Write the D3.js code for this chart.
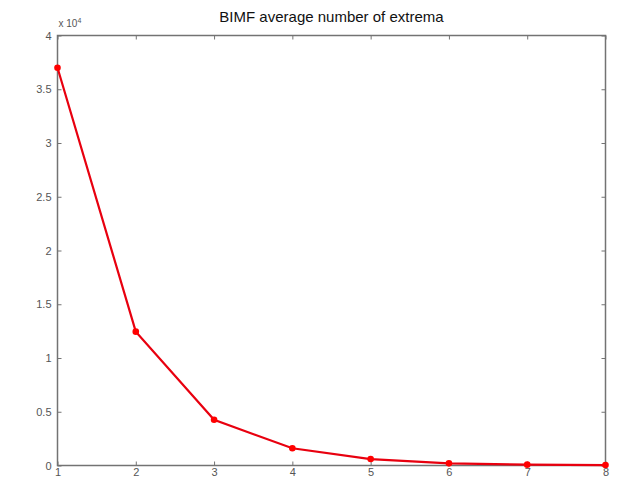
<!DOCTYPE html>
<html><head><meta charset="utf-8">
<script src="https://cdn.jsdelivr.net/npm/d3@7"></script>
<style>body{margin:0;background:#fff}svg{display:block}text{font-family:"Liberation Sans",Arial,sans-serif}</style>
</head><body><svg id="c" width="617" height="481"></svg>
<script>
const imfIndex = [1,2,3,4,5,6,7,8];
const avgExtrema = [37000,12450,4250,1600,600,200,80,40];
const xTicks = [1,2,3,4,5,6,7,8];
const yTicks = [0,5000,10000,15000,20000,25000,30000,35000,40000];
const yTickLabels = ["0","0.5","1","1.5","2","2.5","3","3.5","4"];
const title = "BIMF average number of extrema";

const svg = d3.select("#c");
const m = {l:57.5, r:605.5, t:35.5, b:465.5};
const x = d3.scaleLinear().domain([1,8]).range([m.l,m.r]);
const y = d3.scaleLinear().domain([0,40000]).range([m.b,m.t]);
const axCol = "#737373", txtCol = "#555";

svg.append("rect").attr("x",m.l).attr("y",m.t).attr("width",m.r-m.l).attr("height",m.b-m.t)
  .attr("fill","none").attr("stroke",axCol).attr("stroke-width",1.5);

const tl = 4;
const fmtY = d => yTickLabels[yTicks.indexOf(d)];
const gB = svg.append("g").attr("transform",`translate(0,${m.b})`).call(d3.axisBottom(x).tickValues(xTicks).tickSizeInner(-tl).tickSizeOuter(0).tickPadding(3).tickFormat(d3.format("d")));
const gT = svg.append("g").attr("transform",`translate(0,${m.t})`).call(d3.axisTop(x).tickValues(xTicks).tickSizeInner(-tl).tickSizeOuter(0).tickFormat(""));
const gL = svg.append("g").attr("transform",`translate(${m.l},0)`).call(d3.axisLeft(y).tickValues(yTicks).tickSizeInner(-tl).tickSizeOuter(0).tickPadding(6).tickFormat(fmtY));
const gR = svg.append("g").attr("transform",`translate(${m.r},0)`).call(d3.axisRight(y).tickValues(yTicks).tickSizeInner(-tl).tickSizeOuter(0).tickFormat(""));
[gB,gT,gL,gR].forEach(g=>{
  g.select(".domain").remove();
  g.selectAll(".tick line").attr("stroke",axCol).attr("stroke-width",1);
  g.selectAll("text").attr("fill",txtCol).style("font-size","11px");
});

svg.append("text").attr("x",m.l+1).attr("y",27).attr("fill",txtCol).style("font-size","10px").text("x 10")
  .append("tspan").attr("dy",-4).style("font-size","7px").text("4");

svg.append("text").attr("x",(m.l+m.r)/2).attr("y",22).attr("text-anchor","middle").attr("fill","#111")
  .style("font-size","15px").text(title);

const data = imfIndex.map((d,i)=>({x:d,y:avgExtrema[i]}));
const line = d3.line().x(d=>x(d.x)).y(d=>y(d.y));
svg.append("path").datum(data).attr("d",line).attr("fill","none").attr("stroke","#e8000f").attr("stroke-width",2.2);
svg.selectAll("circle.pt").data(data).join("circle").attr("class","pt")
  .attr("cx",d=>x(d.x)).attr("cy",d=>y(d.y)).attr("r",3.3).attr("fill","#f00");
</script></body></html>
